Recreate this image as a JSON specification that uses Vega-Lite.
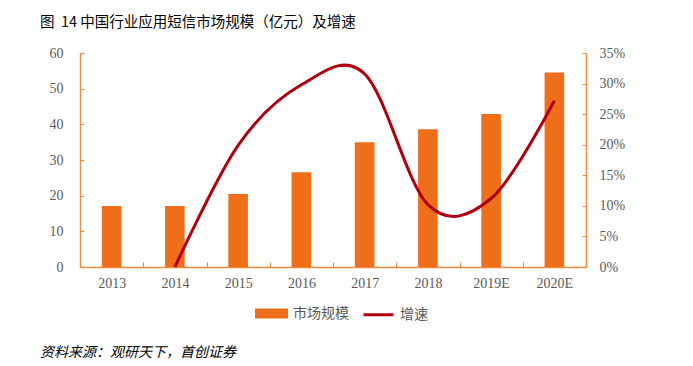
{
  "$schema": "https://vega.github.io/schema/vega-lite/v6.json",
  "padding": {"left": 40, "top": 14, "right": 0, "bottom": 0},
  "background": "white",
  "title": {
    "text": "图\u00a0\u00a014 中国行业应用短信市场规模（亿元）及增速",
    "anchor": "start",
    "frame": "group",
    "dx": -40,
    "offset": 16,
    "font": "Noto Sans CJK SC",
    "fontSize": 14.5,
    "fontWeight": "normal",
    "color": "#000000"
  },
  "vconcat": [
    {
      "width": 506,
      "height": 214,
      "data": {
        "values": [
          {"year": "2013", "size": 17.1, "growth": null},
          {"year": "2014", "size": 17.1, "growth": 0.0},
          {"year": "2015", "size": 20.5, "growth": 0.199},
          {"year": "2016", "size": 26.6, "growth": 0.298},
          {"year": "2017", "size": 35.0, "growth": 0.316},
          {"year": "2018", "size": 38.6, "growth": 0.102},
          {"year": "2019E", "size": 42.9, "growth": 0.112},
          {"year": "2020E", "size": 54.5, "growth": 0.272}
        ]
      },
      "title": {
        "text": "资料来源：观研天下，首创证券",
        "orient": "bottom",
        "anchor": "start",
        "frame": "group",
        "dx": -40,
        "offset": 56,
        "font": "Noto Sans CJK SC",
        "fontSize": 14,
        "fontStyle": "italic",
        "fontWeight": "normal",
        "color": "#000000"
      },
      "layer": [
        {
          "mark": {"type": "bar", "width": {"band": 0.31}},
          "encoding": {
            "x": {
              "field": "year",
              "type": "ordinal",
              "sort": null,
              "scale": {"paddingInner": 0, "paddingOuter": 0},
              "axis": {
                "title": null,
                "labelAngle": 0,
                "domainColor": "#F28C3C",
                "domainWidth": 1.5,
                "tickColor": "#F28C3C",
                "tickBand": "extent",
                "tickSize": -5,
                "labelPadding": 14,
                "labelFont": "Liberation Serif",
                "labelFontSize": 14,
                "labelColor": "#595959",
                "grid": false
              }
            },
            "y": {
              "field": "size",
              "type": "quantitative",
              "scale": {"domain": [0, 60]},
              "axis": {
                "orient": "left",
                "title": null,
                "values": [0, 10, 20, 30, 40, 50, 60],
                "domainColor": "#F28C3C",
                "domainWidth": 1.5,
                "tickColor": "#F28C3C",
                "tickSize": -4,
                "labelPadding": 21,
                "labelFont": "Liberation Serif",
                "labelFontSize": 14,
                "labelColor": "#595959",
                "grid": false
              }
            },
            "color": {
              "datum": "市场规模",
              "scale": {"domain": ["市场规模", "增速"], "range": ["#EE6E1A", "#B0000F"]},
              "legend": {
                "orient": "none",
                "legendX": 175,
                "legendY": 244,
                "direction": "horizontal",
                "title": null,
                "symbolType": "M-1,-0.23H1V0.23H-1Z",
                "symbolSize": 900,
                "labelFont": "Noto Sans CJK SC",
                "labelFontSize": 14,
                "labelColor": "#595959",
                "labelOffset": 5,
                "columnPadding": 8,
                "encode": {
                  "symbols": {
                    "update": {
                      "shape": {"signal": "datum.value === '增速' ? 'M-1,0H1' : 'M-1,-0.23H1V0.23H-1Z'"},
                      "fill": {"signal": "datum.value === '增速' ? 'transparent' : '#EE6E1A'"},
                      "stroke": {"signal": "datum.value === '增速' ? '#B0000F' : 'transparent'"},
                      "strokeWidth": {"value": 3},
                      "opacity": {"value": 1}
                    }
                  }
                }
              }
            }
          }
        },
        {
          "mark": {"type": "line", "interpolate": "cardinal", "strokeWidth": 3},
          "encoding": {
            "x": {"field": "year", "type": "ordinal", "sort": null},
            "y": {
              "field": "growth",
              "type": "quantitative",
              "scale": {"domain": [0, 0.35]},
              "axis": {
                "orient": "right",
                "title": null,
                "values": [0, 0.05, 0.1, 0.15, 0.2, 0.25, 0.3, 0.35],
                "format": ".0%",
                "domainColor": "#F28C3C",
                "domainWidth": 1.5,
                "tickColor": "#F28C3C",
                "tickSize": -4,
                "labelPadding": 17,
                "labelFont": "Liberation Serif",
                "labelFontSize": 14,
                "labelColor": "#595959",
                "grid": false
              }
            },
            "color": {"datum": "增速"}
          }
        }
      ],
      "resolve": {"scale": {"y": "independent"}}
    }
  ],
  "config": {"view": {"stroke": null}, "concat": {"spacing": 0}}
}
